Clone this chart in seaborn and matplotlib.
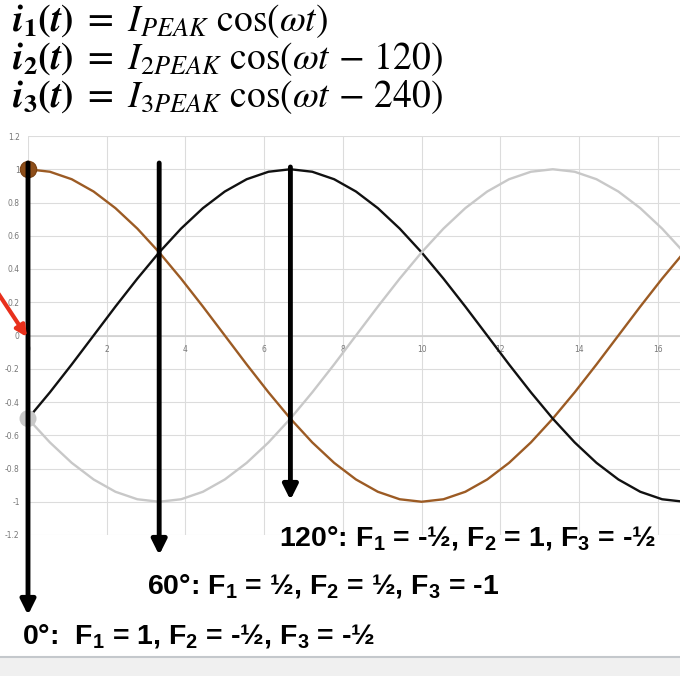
import numpy as np
import pandas as pd
import matplotlib
matplotlib.use('Agg')
import matplotlib.pyplot as plt
import seaborn as sns
from matplotlib.patches import Rectangle, FancyArrowPatch
from matplotlib.lines import Line2D

# ---- data ----
t = [0.0, 0.556, 1.111, 1.667, 2.222, 2.778, 3.333, 3.889, 4.444, 5.0, 5.556,
     6.111, 6.667, 7.222, 7.778, 8.333, 8.889, 9.444, 10.0, 10.556, 11.111,
     11.667, 12.222, 12.778, 13.333, 13.889, 14.444, 15.0, 15.556, 16.111, 16.667]
i1 = [1.0, 0.985, 0.94, 0.866, 0.766, 0.643, 0.5, 0.342, 0.174, 0.0, -0.174,
      -0.342, -0.5, -0.643, -0.766, -0.866, -0.94, -0.985, -1.0, -0.985, -0.94,
      -0.866, -0.766, -0.643, -0.5, -0.342, -0.174, 0.0, 0.174, 0.342, 0.5]
i2 = [-0.5, -0.342, -0.174, 0.0, 0.174, 0.342, 0.5, 0.643, 0.766, 0.866, 0.94,
      0.985, 1.0, 0.985, 0.94, 0.866, 0.766, 0.643, 0.5, 0.342, 0.174,
      0.0, -0.174, -0.342, -0.5, -0.643, -0.766, -0.866, -0.94, -0.985, -1.0]
i3 = [-0.5, -0.643, -0.766, -0.866, -0.94, -0.985, -1.0, -0.985, -0.94, -0.866, -0.766,
      -0.643, -0.5, -0.342, -0.174, 0.0, 0.174, 0.342, 0.5, 0.643, 0.766,
      0.866, 0.94, 0.985, 1.0, 0.985, 0.94, 0.866, 0.766, 0.643, 0.5]
series_names = ['i1', 'i2', 'i3']
series_colors = ['#9C5B24', '#111111', '#C8C8C8']

x_ticks = [0, 2, 4, 6, 8, 10, 12, 14, 16]
x_tick_labels = ['0', '2', '4', '6', '8', '10', '12', '14', '16']
y_ticks = [-1.2, -1.0, -0.8, -0.6, -0.4, -0.2, 0.0, 0.2, 0.4, 0.6, 0.8, 1.0, 1.2]
y_tick_labels = ['-1.2', '-1', '-0.8', '-0.6', '-0.4', '-0.2', '0', '0.2', '0.4',
                 '0.6', '0.8', '1', '1.2']

arrow_t = [0.0, 3.333, 6.667]
arrow_labels = ['0°:  F$_\\mathbf{1}$ = 1, F$_\\mathbf{2}$ = -½, F$_\\mathbf{3}$ = -½',
                '60°: F$_\\mathbf{1}$ = ½, F$_\\mathbf{2}$ = ½, F$_\\mathbf{3}$ = -1',
                '120°: F$_\\mathbf{1}$ = -½, F$_\\mathbf{2}$ = 1, F$_\\mathbf{3}$ = -½']

equations = [r'$\mathbfit{i}_\mathbf{1}\mathbf{(}\mathbfit{t}\mathbf{)}\ =\ I_{PEAK}\ \cos(\omega t)$',
             r'$\mathbfit{i}_\mathbf{2}\mathbf{(}\mathbfit{t}\mathbf{)}\ =\ I_{2PEAK}\ \cos(\omega t\,-\,120)$',
             r'$\mathbfit{i}_\mathbf{3}\mathbf{(}\mathbfit{t}\mathbf{)}\ =\ I_{3PEAK}\ \cos(\omega t\,-\,240)$']

# ---- figure ----
sns.set_style('white')
plt.rcParams['mathtext.fontset'] = 'custom'
plt.rcParams['mathtext.rm'] = 'Liberation Sans:bold'
plt.rcParams['mathtext.bf'] = 'Liberation Sans:bold'
plt.rcParams['mathtext.it'] = 'Liberation Sans:bold'

W, H = 680, 676
fig = plt.figure(figsize=(W / 100, H / 100), dpi=100)
ax = fig.add_axes([28 / W, 141 / H, 656 / W, 399 / H])

df = pd.DataFrame({
    't': t * 3,
    'value': i1 + i2 + i3,
    'series': [series_names[0]] * len(t) + [series_names[1]] * len(t) + [series_names[2]] * len(t),
})
for k in [2, 1, 0]:
    sub = df[df['series'] == series_names[k]]
    sns.lineplot(data=sub, x='t', y='value', ax=ax, color=series_colors[k],
                 linewidth=1.7, legend=False, zorder=3 + k * 0.1)

# start markers
ax.scatter([t[0]], [i3[0]], s=150, color='#C8C8C8', zorder=6, edgecolors='none', clip_on=False)
ax.scatter([t[0]], [i1[0]], s=140, color='#8E4E1A', zorder=6, edgecolors='#7a4010',
           linewidths=0.8, clip_on=False)

ax.set_xlim(0, 16.667)
ax.set_ylim(-1.2, 1.2)
ax.set_xticks(x_ticks)
ax.set_xticklabels(x_tick_labels)
ax.set_yticks(y_ticks)
ax.set_yticklabels(y_tick_labels)
ax.grid(True, color='#DCDCDC', linewidth=0.8)
for s in ['top', 'right', 'left']:
    ax.spines[s].set_visible(False)
ax.spines['bottom'].set_position(('data', 0))
ax.spines['bottom'].set_color('#D0D0D0')
ax.spines['bottom'].set_linewidth(1.2)
ax.tick_params(axis='both', length=0, labelsize=5.5, labelcolor='#777777')
ax.tick_params(axis='x', pad=7)
ax.tick_params(axis='y', pad=6)
ax.set_xlabel('')
ax.set_ylabel('')

# vertical arrows at the three phase points
tops = [163, 163, 167]
tips = [615, 555, 500]
for xt, top, tip in zip(arrow_t, tops, tips):
    ax.annotate('', xy=(xt, H - tip), xytext=(xt, H - top),
                xycoords=('data', 'figure pixels'), textcoords=('data', 'figure pixels'),
                arrowprops=dict(arrowstyle='-|>', color='black', lw=3.5,
                                mutation_scale=22, shrinkA=0, shrinkB=0),
                annotation_clip=False, zorder=8)

# red arrow
fig.add_artist(FancyArrowPatch(
    (-4, H - 290), (27, H - 337), transform=None,
    arrowstyle='-|>', color='#E8301C', lw=3, mutation_scale=16,
    shrinkA=0, shrinkB=0, zorder=9))

# labels
label_pos = [(22, 33), (147, 82), (279, 131)]
for (px, py), lab in zip(label_pos, arrow_labels):
    fig.text(px / W, py / H, lab, fontsize=20.5, fontweight='bold', color='black',
             family=['Liberation Sans', 'DejaVu Sans'], va='baseline', ha='left')

# equations
eq_y = [31, 69, 107]
for yy, eq in zip(eq_y, equations):
    fig.text(12 / W, (H - yy) / H, eq, fontsize=27, va='baseline', ha='left',
             color='black', math_fontfamily='stix')

# bottom bar
fig.add_artist(Rectangle((0, 0), 1, 19 / H, transform=fig.transFigure,
                         facecolor='#F0F0F0', edgecolor='none', zorder=0))
fig.add_artist(Line2D([0, 1], [19.5 / H, 19.5 / H], transform=fig.transFigure,
                      color='#C4C8CC', lw=1.5))

fig.savefig('out.png', dpi=100)
